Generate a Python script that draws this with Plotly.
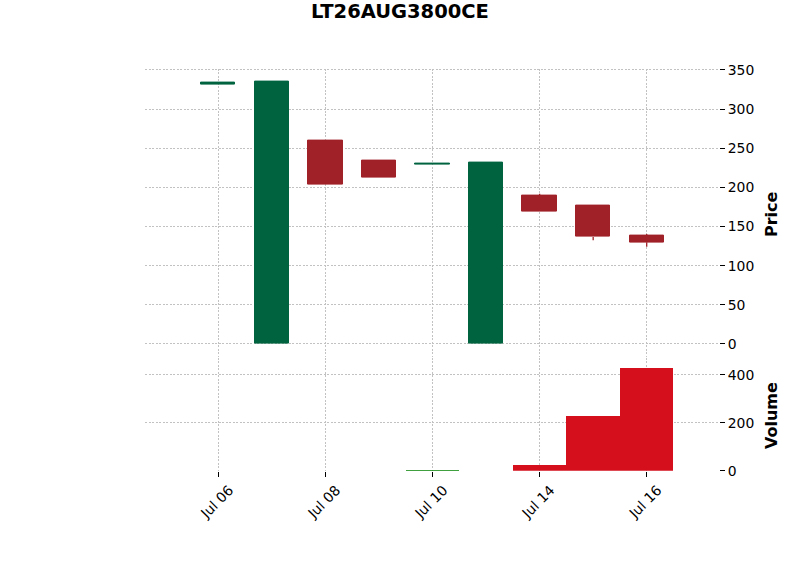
import plotly.graph_objects as go

# ---- data ----
dates = ["Jul 06", "Jul 07", "Jul 08", "Jul 09", "Jul 10", "Jul 13", "Jul 14", "Jul 15", "Jul 16"]
opens = [331, 0, 259.5, 234, 228.5, 0, 189, 176.5, 138]
highs = [334, 335, 259.5, 234, 230.5, 231.5, 192, 176.5, 140.5]
lows = [331, 0, 204, 213, 228.5, 0, 168.5, 132.5, 124]
closes = [334, 335, 204, 213, 230.5, 231.5, 168.5, 136.5, 130]
volumes = [0, 0, 0, 0, 4, 0, 24, 231, 431]

UP = "#006340"
DOWN = "#A02128"
VOL_UP = "#008000"
VOL_DOWN = "#D50F1B"

W, H = 800, 575
xs = list(range(len(dates)))
up = [c >= o for o, c in zip(opens, closes)]

fig = go.Figure()

# wicks (only the parts outside the body)
for color, flag in ((UP, True), (DOWN, False)):
    wx, wy = [], []
    for i in xs:
        if up[i] != flag:
            continue
        top = max(opens[i], closes[i])
        bot = min(opens[i], closes[i])
        if highs[i] > top:
            wx += [i, i, None]
            wy += [top, highs[i], None]
        if lows[i] < bot:
            wx += [i, i, None]
            wy += [lows[i], bot, None]
    if wx:
        fig.add_trace(go.Scatter(x=wx, y=wy, mode="lines", line=dict(color=color, width=1.3),
                                 hoverinfo="skip", showlegend=False, xaxis="x", yaxis="y"))
# bodies
fig.add_trace(go.Bar(
    x=xs,
    y=[abs(c - o) for o, c in zip(opens, closes)],
    base=[min(o, c) for o, c in zip(opens, closes)],
    width=0.64,
    marker=dict(color=[UP if u else DOWN for u in up],
                line=dict(color=[UP if u else DOWN for u in up], width=1)),
    showlegend=False, xaxis="x", yaxis="y"))

# volume
fig.add_trace(go.Bar(
    x=xs, y=volumes, width=1.0,
    marker=dict(color=[VOL_UP if u else VOL_DOWN for u in up],
                line=dict(width=0)),
    showlegend=False, xaxis="x2", yaxis="y2"))

x0, x1 = 145 / W, 719 / W
price_top, price_bot = 1 - 68.6 / H, 1 - 357 / H
vol_top, vol_bot = 1 - 357.5 / H, 1 - 470.7 / H

grid = dict(showgrid=True, gridcolor="#c2c2c2", gridwidth=0.7, griddash="2px,1.5px", zeroline=False,
            showline=False, automargin=False)
tickfont = dict(family="DejaVu Sans", size=13.9, color="black")

xr = [-1.37, 9.35]
fig.update_layout(
    width=W, height=H, margin=dict(l=0, r=0, t=0, b=0, autoexpand=False),
    plot_bgcolor="white", paper_bgcolor="white",
    bargap=0,
    xaxis=dict(domain=[x0, x1], range=xr, anchor="y", showticklabels=False,
               tickvals=xs[::2], ticks="", **grid),
    yaxis=dict(domain=[price_bot, price_top], range=[-16.75, 351.75], side="right",
               anchor="x", tickvals=[0, 50, 100, 150, 200, 250, 300, 350], ticks="outside",
               ticklen=5, tickcolor="black", tickfont=tickfont, **grid),
    xaxis2=dict(domain=[x0, x1], range=xr, anchor="y2", tickvals=xs[::2],
                ticktext=dates[::2], tickangle=-45, ticks="outside", ticklen=5,
                ticklabelshift=11, tickcolor="black", tickfont=tickfont, **grid),
    yaxis2=dict(domain=[vol_bot, vol_top], range=[0, 473], side="right", anchor="x2",
                tickvals=[0, 200, 400], ticks="outside", ticklen=5, tickcolor="black",
                tickfont=tickfont, **grid),
    title=dict(text="<b>LT26AUG3800CE</b>", x=0.5, xanchor="center", y=1 - 11 / H,
               yanchor="middle", font=dict(family="DejaVu Sans", size=19.5, color="black")),
    annotations=[
        dict(text="<b>Price</b>", textangle=-90, x=771 / W, y=1 - 214 / H, xref="paper",
             yref="paper", xanchor="center", yanchor="middle", showarrow=False,
             font=dict(family="DejaVu Sans", size=16, color="black")),
        dict(text="<b>Volume</b>", textangle=-90, x=771 / W, y=1 - 416 / H, xref="paper",
             yref="paper", xanchor="center", yanchor="middle", showarrow=False,
             font=dict(family="DejaVu Sans", size=16, color="black")),
    ],
)

fig.write_html("out.html")
